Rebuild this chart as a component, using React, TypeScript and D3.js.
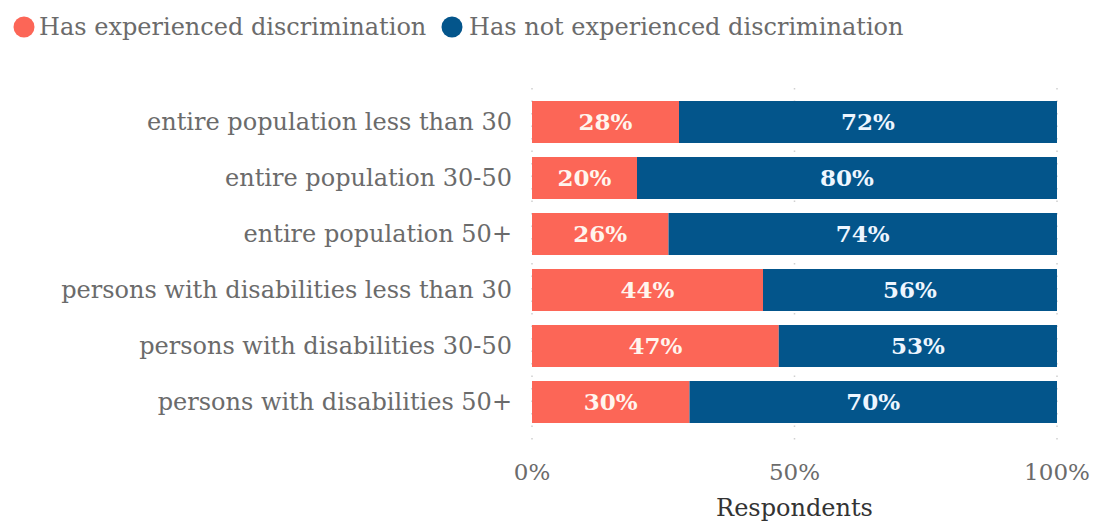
import React from "react";
import * as d3 from "d3";

const categories = [
  "entire population less than 30",
  "entire population 30-50",
  "entire population 50+",
  "persons with disabilities less than 30",
  "persons with disabilities 30-50",
  "persons with disabilities 50+",
];
const experienced = [28, 20, 26, 44, 47, 30];
const notExperienced = [72, 80, 74, 56, 53, 70];
const seriesNames = ["Has experienced discrimination", "Has not experienced discrimination"];
const xTicks = [0, 50, 100];

const RED = "#fc6657";
const BLUE = "#03558b";
const FONT = "'DejaVu Serif', serif";

export default function App() {
  const W = 1106, H = 524;
  const x = d3.scaleLinear().domain([0, 100]).range([532, 1057]);
  const y = d3.scaleBand().domain(categories).range([94, 430]).paddingInner(0.25).paddingOuter(0.125);
  const data = categories.map((c, i) => ({ c, a: experienced[i], b: notExperienced[i] }));
  return (
    <svg width={W} height={H} style={{ position: "absolute", left: 0, top: 0, background: "#fff" }}>
      {xTicks.map((t) => (
        <line key={t} x1={x(t)} x2={x(t)} y1={88} y2={450} stroke="#d0d0d0" strokeWidth={1.5} strokeDasharray="1.5 11" />
      ))}
      <g fontFamily={FONT} fontSize={24} fill="#6b6b6b">
        <circle cx={24} cy={27} r={10.5} fill={RED} />
        <text x={39} y={35}>{seriesNames[0]}</text>
        <circle cx={452} cy={27} r={10.5} fill={BLUE} />
        <text x={469} y={35}>{seriesNames[1]}</text>
      </g>
      {data.map((d) => {
        const yy = y(d.c)!;
        const bh = y.bandwidth();
        return (
          <g key={d.c}>
            <text x={512} y={yy + bh / 2} dy="0.35em" textAnchor="end" fontFamily={FONT} fontSize={24} fill="#6b6b6b">{d.c}</text>
            <rect x={x(0)} y={yy} width={x(d.a) - x(0)} height={bh} fill={RED} />
            <rect x={x(d.a)} y={yy} width={x(d.a + d.b) - x(d.a)} height={bh} fill={BLUE} />
            <text x={(x(0) + x(d.a)) / 2} y={yy + bh / 2} dy="0.36em" textAnchor="middle" fontFamily={FONT} fontWeight="bold" fontSize={23} fill="#fff5ee">{d.a}%</text>
            <text x={(x(d.a) + x(d.a + d.b)) / 2} y={yy + bh / 2} dy="0.36em" textAnchor="middle" fontFamily={FONT} fontWeight="bold" fontSize={23} fill="#eef6ff">{d.b}%</text>
          </g>
        );
      })}
      {xTicks.map((t) => (
        <text key={t} x={x(t)} y={480} textAnchor="middle" fontFamily={FONT} fontSize={23} fill="#6b6b6b">{t}%</text>
      ))}
      <text x={x(50)} y={516} textAnchor="middle" fontFamily={FONT} fontSize={24} fill="#333">Respondents</text>
    </svg>
  );
}
